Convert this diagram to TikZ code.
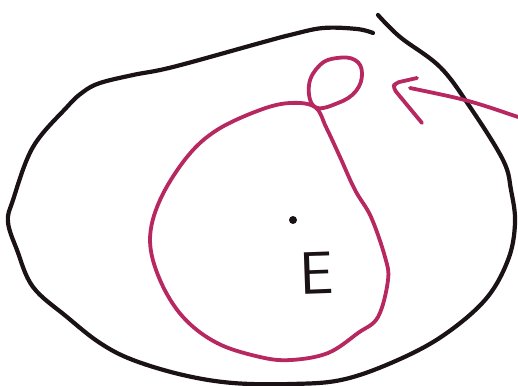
\documentclass[tikz,border=0pt]{standalone}
\usepackage{fontspec}
\usepackage{xcolor}
\usepackage{tikz}
\usetikzlibrary{positioning}
\definecolor{inkpink}{RGB}{184,40,96}
\definecolor{inkblack}{RGB}{26,18,22}

\begin{document}
\begin{tikzpicture}[x=1pt, y=-1pt, line cap=round, line join=round,
        outline/.style={draw=inkblack, line width=4.2pt},
        pinkline/.style={draw=inkpink, line width=3.8pt},
        centre/.style={circle, fill=inkblack, inner sep=0pt, minimum size=8pt},
        letter/.style={text=inkblack, inner sep=0pt, font=\sffamily\fontsize{60}{60}\selectfont}]
    \useasboundingbox (0,0) rectangle (518,385);

    % outer boundary, left open at the top
    \draw[outline] plot[smooth, tension=0.6] coordinates {
        (373,33) (357,29) (323,28) (290,35) (260,43) (173,67) (133,75)
        (100,83) (83,92) (67,107) (33,147) (13,200) (8,222) (17,250)
        (33,287) (67,317) (100,343) (133,360) (183,375) (233,383)
        (291,384) (341,380) (391,363) (441,337) (485,300) (508,260)
        (515,223) (511,190) (503,160) (470,107) (440,67) (400,37) (378,15)};

    % inner pink loop and the small loop on it
    \draw[pinkline] plot[smooth cycle, tension=0.6] coordinates {
        (315,107) (290,103) (260,110) (217,130) (187,157) (160,200)
        (150,240) (160,280) (183,317) (217,343) (260,357) (291,360)
        (328,353) (358,333) (378,317) (388,280) (385,257) (371,217)
        (355,190) (340,157) (326,127)};
    \draw[pinkline] plot[smooth cycle, tension=0.7] coordinates {
        (315,107) (309,85) (320,65) (337,58) (355,60) (362,73)
        (356,91) (338,103)};

    % arrow pointing at the small loop
    \coordinate (tail) at (518,117);
    \coordinate (head) at (410,88);
    \draw[pinkline] (tail) .. controls (468,100) .. (head);
    \draw[pinkline, rounded corners=4pt] (417,78) -- (395,83) -- (393,88) -- (422,123);

    \node[centre] (p) at (293,220) {};
    \node[letter, rotate=2] (E) at (317,273) {E};
\end{tikzpicture}
\end{document}
